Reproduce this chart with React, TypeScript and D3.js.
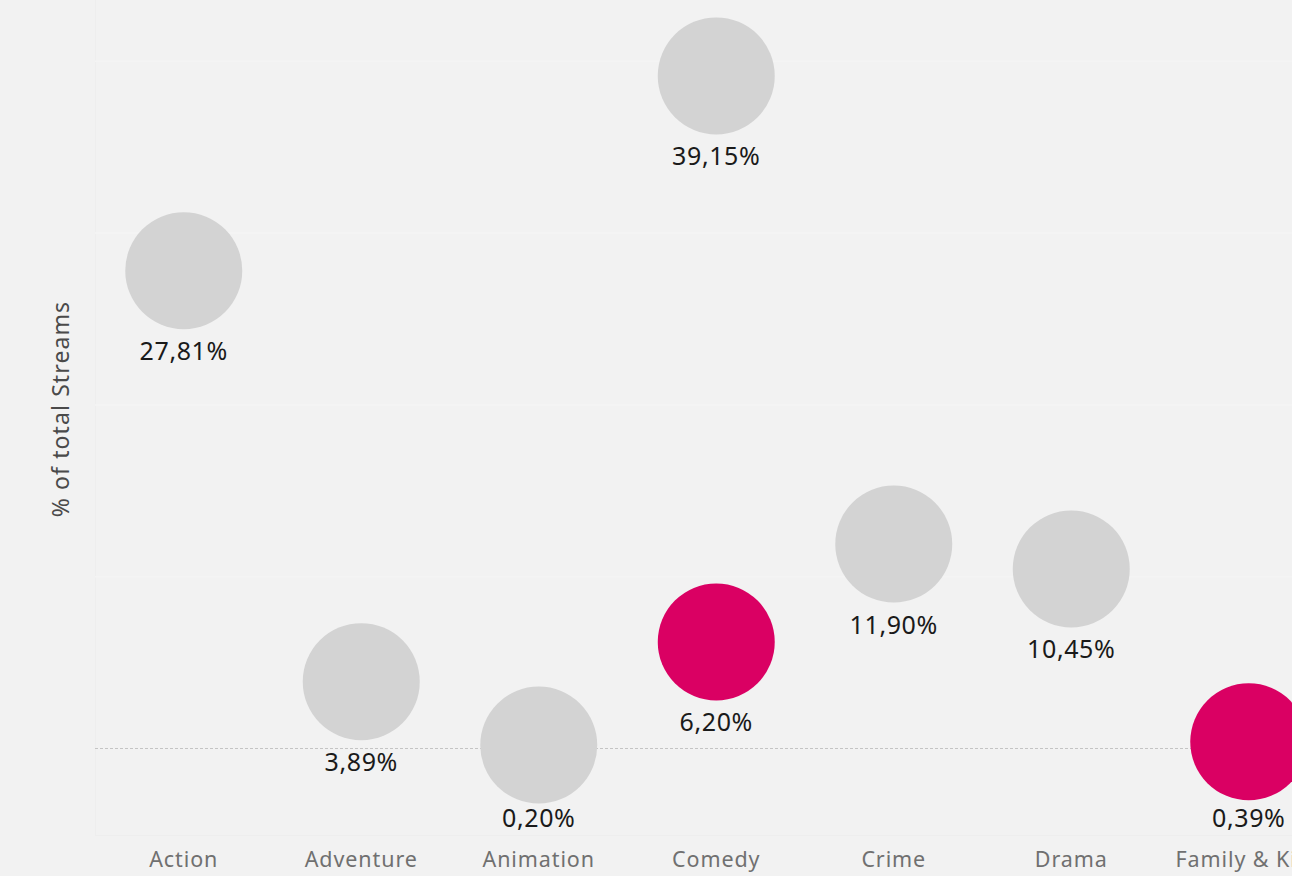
import React from "react";
import * as d3 from "d3";

const categories = ["Action", "Adventure", "Animation", "Comedy", "Crime", "Drama", "Family & Kids"];
const greyValues: (number | null)[] = [27.81, 3.89, 0.2, 39.15, 11.9, 10.45, null];
const pinkValues: (number | null)[] = [null, null, null, 6.2, null, null, 0.39];
const gridTicks = [0, 10, 20, 30, 40];
const axisTitle = "% of total Streams";

const W = 1292;
const H = 876;
const FONT = "'Noto Sans', sans-serif";

export default function App() {
  const paneLeft = 95;
  const paneBottom = 835;
  const step = 177.5;
  const x = d3
    .scaleBand<string>()
    .domain(categories)
    .range([paneLeft, paneLeft + step * categories.length])
    .paddingInner(0)
    .paddingOuter(0);
  const y = d3.scaleLinear().domain([0, 40]).range([748.5, 61.3]);
  const r = 58.5;
  const fmt = (v: number) => v.toFixed(2).replace(".", ",") + "%";

  const points: { cat: string; v: number; color: string }[] = [];
  categories.forEach((c, i) => {
    const g = greyValues[i];
    if (g != null) points.push({ cat: c, v: g, color: "#d3d3d3" });
    const p = pinkValues[i];
    if (p != null) points.push({ cat: c, v: p, color: "#da0063" });
  });

  const cx = (c: string) => (x(c) as number) + x.bandwidth() / 2;

  return (
    <div style={{ position: "fixed", left: 0, top: 0, width: W, height: H }}>
      <svg width={W} height={H} style={{ display: "block", background: "#f2f2f2" }}>
        <rect x={0} y={0} width={W} height={H} fill="#f2f2f2" />
        <line x1={paneLeft + 0.5} x2={paneLeft + 0.5} y1={0} y2={paneBottom} stroke="#eeeeee" strokeWidth={1} />
        <line x1={paneLeft} x2={W} y1={paneBottom + 0.5} y2={paneBottom + 0.5} stroke="#eeeeee" strokeWidth={1} />
        {gridTicks
          .filter((t) => t !== 0)
          .map((t) => (
            <line key={t} x1={paneLeft} x2={W} y1={y(t)} y2={y(t)} stroke="#f4f4f4" strokeWidth={1.5} />
          ))}
        <line
          x1={paneLeft}
          x2={W}
          y1={y(0)}
          y2={y(0)}
          stroke="#c4c4c4"
          strokeWidth={1}
          strokeDasharray="3,2"
        />
        {points.map((p, i) => (
          <g key={i}>
            <circle cx={cx(p.cat)} cy={y(p.v)} r={r} fill={p.color} />
            <text
              x={cx(p.cat)}
              y={Math.min(y(p.v) + r + 31, 827)}
              textAnchor="middle"
              fontFamily={FONT}
              fontSize={25}
              letterSpacing={0.6}
              fill="#1a1a1a"
            >
              {fmt(p.v)}
            </text>
          </g>
        ))}
        {categories.map((c) => (
          <text
            key={c}
            x={cx(c)}
            y={867}
            textAnchor="middle"
            fontFamily={FONT}
            fontSize={21.5}
            letterSpacing={0.9}
            fill="#707070"
          >
            {c}
          </text>
        ))}
        <text
          transform={`translate(69,409) rotate(-90)`}
          textAnchor="middle"
          fontFamily={FONT}
          fontSize={23}
          letterSpacing={1.1}
          fill="#4a4a4a"
        >
          {axisTitle}
        </text>
      </svg>
    </div>
  );
}
